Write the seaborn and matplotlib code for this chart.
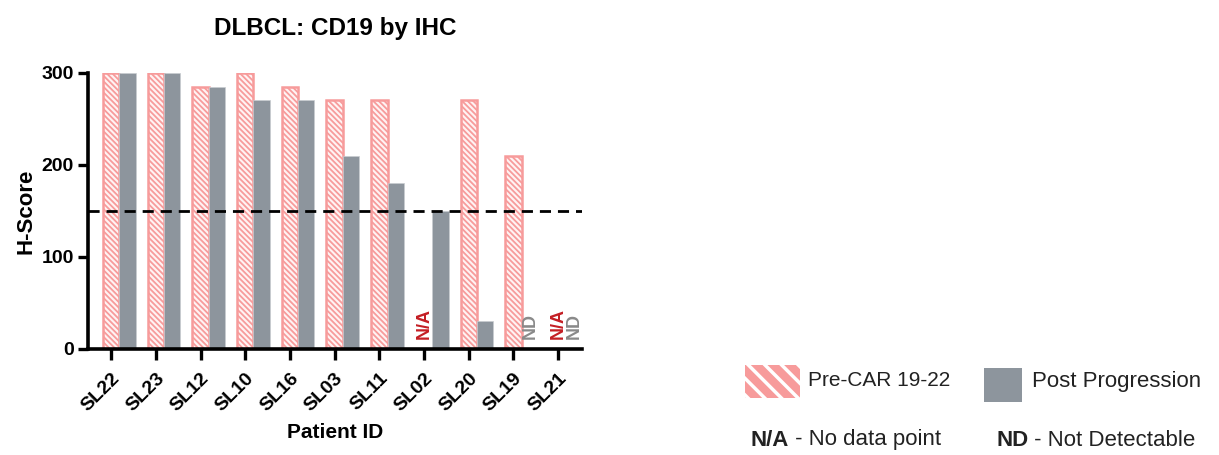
import matplotlib
matplotlib.use("Agg")
import matplotlib.pyplot as plt
import seaborn as sns
import numpy as np
import pandas as pd
from matplotlib.patches import Rectangle

# data
patients = ["SL22", "SL23", "SL12", "SL10", "SL16", "SL03", "SL11", "SL02", "SL20", "SL19", "SL21"]
pre_car = [300, 300, 285, 300, 285, 270, 270, np.nan, 270, 210, np.nan]
post_prog = [300, 300, 285, 270, 270, 210, 180, 150, 30, np.nan, np.nan]
na_pre = ["SL02", "SL21"]     # no data point, pre
nd_post = ["SL19", "SL21"]    # not detectable, post
cutoff = 150

groups = ["Pre-CAR 19-22", "Post Progression"]
pink = "#f79b9b"
grey = "#8d959d"

df = pd.DataFrame({"Patient": patients * 2,
                   "Group": [groups[0]] * len(patients) + [groups[1]] * len(patients),
                   "H": pre_car + post_prog}).dropna()

sns.set_style("ticks")
plt.rcParams["font.family"] = ["Liberation Sans", "DejaVu Sans"]
plt.rcParams["text.color"] = "black"
plt.rcParams["axes.labelcolor"] = "black"
plt.rcParams["xtick.color"] = "black"
plt.rcParams["ytick.color"] = "black"

fig = plt.figure(figsize=(12.19, 4.55), dpi=100)
ax = fig.add_axes([0.0722, 0.233, 0.4052, 0.607])

w = 0.73
sns.barplot(data=df, x="Patient", y="H", hue="Group", order=patients, hue_order=groups,
            palette=[pink, grey], width=w, dodge=True, ax=ax, legend=False, saturation=1)

for bar in ax.containers[0]:
    bar.set_facecolor("#fff3f3")
    bar.set_edgecolor(pink)
    bar.set_hatch("\\" * 6)
    bar.set_linewidth(1.8)
    if hasattr(bar, "set_hatch_linewidth"):
        bar.set_hatch_linewidth(1.3)
for bar in ax.containers[1]:
    bar.set_facecolor(grey)
    bar.set_edgecolor("#c9cdd1")
    bar.set_linewidth(0.5)

# N/A and ND markers
for i, p in enumerate(patients):
    if p in na_pre:
        ax.text(i - w / 4, 11, "N/A", rotation=90, ha="center", va="bottom",
                color="#c41e24", fontweight="bold", fontsize=13)
    if p in nd_post:
        ax.text(i + w / 4, 11, "ND", rotation=90, ha="center", va="bottom",
                color="#8a8a8a", fontweight="bold", fontsize=13)

ax.axhline(cutoff, color="black", lw=2, ls=(0, (4, 2.5)), zorder=5)

ax.set_ylim(0, 300)
ax.set_xlim(-0.70, 10.35)
ax.set_yticks([0, 100, 200, 300])
ax.set_xticks(np.arange(len(patients)) - w / 4)
ax.set_xticklabels(patients, rotation=45, ha="right", rotation_mode="anchor",
                   fontweight="bold", fontsize=14)
for lab in ax.get_yticklabels():
    lab.set_fontweight("bold")
    lab.set_fontsize(14)
ax.tick_params(axis="both", width=2.4, length=7, color="black", pad=3)
ax.tick_params(axis="x", length=8, pad=7)
sns.despine(ax=ax)
for s in ["left", "bottom"]:
    ax.spines[s].set_linewidth(2.6)
    ax.spines[s].set_color("black")

ax.set_xlabel("Patient ID", fontweight="bold", fontsize=15, labelpad=6)
ax.set_ylabel("H-Score", fontweight="bold", fontsize=16, labelpad=4)
ax.set_title("DLBCL: CD19 by IHC", fontweight="bold", fontsize=17.5, pad=27)

# legend drawn by hand
r1 = Rectangle((745 / 1219, 1 - 398 / 455), 55 / 1219, 33 / 455, transform=fig.transFigure,
               facecolor=pink, edgecolor="white", hatch="\\\\", lw=0)
if hasattr(r1, "set_hatch_linewidth"):
    r1.set_hatch_linewidth(2.5)
fig.add_artist(r1)
fig.text(808 / 1219, 1 - 381 / 455, "Pre-CAR 19-22", fontsize=15, va="center", color="#222222")
r2 = Rectangle((984 / 1219, 1 - 402 / 455), 38 / 1219, 34 / 455, transform=fig.transFigure,
               facecolor=grey, edgecolor="none")
fig.add_artist(r2)
fig.text(1032 / 1219, 1 - 382 / 455, "Post Progression", fontsize=16, va="center", color="#222222")

# second legend row: bold key + plain description
renderer = fig.canvas.get_renderer()
for x0, key, desc in [(751, "N/A", " - No data point"), (996, "ND", " - Not Detectable")]:
    t = fig.text(x0 / 1219, 1 - 440 / 455, key, fontsize=16, va="center",
                 fontweight="bold", color="#222222")
    bb = t.get_window_extent(renderer)
    fig.text(bb.x1 / fig.bbox.width, 1 - 440 / 455, desc, fontsize=16, va="center", color="#222222")

fig.savefig("out.png", dpi=100)
